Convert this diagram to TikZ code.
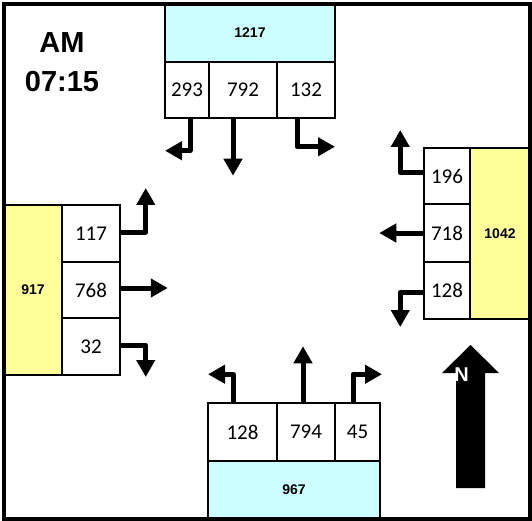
\documentclass[tikz,border=0pt]{standalone}
\usepackage{fontspec}
\setmainfont{Carlito}
\newfontfamily\arialfont{Liberation Sans}
\usetikzlibrary{arrows.meta}
\definecolor{apprcyan}{RGB}{204,255,255}
\definecolor{appryellow}{RGB}{255,255,153}

\begin{document}
\begin{tikzpicture}[
  x=1pt,y=-1pt,
  mv/.style={-{Triangle[length=17pt,width=18pt]},line width=5pt,line join=round},
  cell/.style={draw,line width=1.5pt,fill=white,inner sep=0pt,
               font=\fontsize{21}{24}\selectfont},
  tot/.style={draw,line width=1.5pt,inner sep=0pt,
              font=\arialfont\bfseries\fontsize{14}{16}\selectfont},
  clock/.style={anchor=base,inner sep=0pt,font=\arialfont\bfseries\fontsize{29}{32}\selectfont}
]
\useasboundingbox (0,0) rectangle (532,521);
% ---------- time
\node[clock] (am)   at (62,53) {AM};
\node[clock] (time) at (62,92) {07:15};
% ---------- southbound (top)
\node[tot,fill=apprcyan,minimum width=170,minimum height=58] (sb)  at (250,33) {1217};
\node[cell,minimum width=44,minimum height=56] (sbR) at (187,90) {293};
\node[cell,minimum width=68,minimum height=56] (sbT) at (243,90) {792};
\node[cell,minimum width=58,minimum height=56] (sbL) at (306,90) {132};
% ---------- westbound (right)
\node[tot,fill=appryellow,minimum width=60,minimum height=171] (wb) at (500,233.5) {1042};
\node[cell,minimum width=46,minimum height=56] (wbR) at (447,176)   {196};
\node[cell,minimum width=46,minimum height=58] (wbT) at (447,233)   {718};
\node[cell,minimum width=46,minimum height=57] (wbL) at (447,290.5) {128};
% ---------- eastbound (left)
\node[tot,fill=appryellow,minimum width=58,minimum height=170] (eb) at (33,290) {917};
\node[cell,minimum width=58,minimum height=57] (ebL) at (91,233.5) {117};
\node[cell,minimum width=58,minimum height=56] (ebT) at (91,290)   {768};
\node[cell,minimum width=58,minimum height=57] (ebR) at (91,346.5) {32};
% ---------- northbound (bottom)
\node[tot,fill=apprcyan,minimum width=172,minimum height=58] (nb) at (294,490) {967};
\node[cell,minimum width=69,minimum height=58] (nbL) at (242.5,432) {128};
\node[cell,minimum width=58,minimum height=58] (nbT) at (306,432)   {794};
\node[cell,minimum width=45,minimum height=58] (nbR) at (357.5,432) {45};
% ---------- movements
\draw[mv] ([xshift=3]sbR.south) -- ++(0,32) -- ++(-25,0);
\draw[mv] ([xshift=-10]sbT.south) -- ++(0,57);
\draw[mv] ([xshift=-9]sbL.south) -- ++(0,28) -- ++(38,0);
\draw[mv] ([yshift=3]wbR.west) -- ++(-23,0) -- ++(0,-43);
\draw[mv] (wbT.west) -- ++(-44,0);
\draw[mv] ([yshift=-1.5]wbL.west) -- ++(-23,0) -- ++(0,35);
\draw[mv] ([yshift=1.5]ebL.east) -- ++(25,0) -- ++(0,-44);
\draw[mv] ([yshift=2]ebT.east) -- ++(47,0);
\draw[mv] ([yshift=1.5]ebR.east) -- ++(25,0) -- ++(0,32);
\draw[mv] ([xshift=-9.5]nbL.north) -- ++(0,-28) -- ++(-25,0);
\draw[mv] ([xshift=-3]nbT.north) -- ++(0,-56);
\draw[mv] ([xshift=-4.5]nbR.north) -- ++(0,-28) -- ++(29,0);
% ---------- north arrow
\fill (456,488) -- (456,373) -- (442,373) -- (470.5,345) -- (499,373) -- (485,373) -- (485,488) -- cycle;
\node[inner sep=0pt,text=white,font=\arialfont\bfseries\fontsize{20}{22}\selectfont] (nlab) at (461.5,374.5) {N};
% ---------- frame
\draw[line width=4pt] (4,4) rectangle (530,519);
\end{tikzpicture}
\end{document}
